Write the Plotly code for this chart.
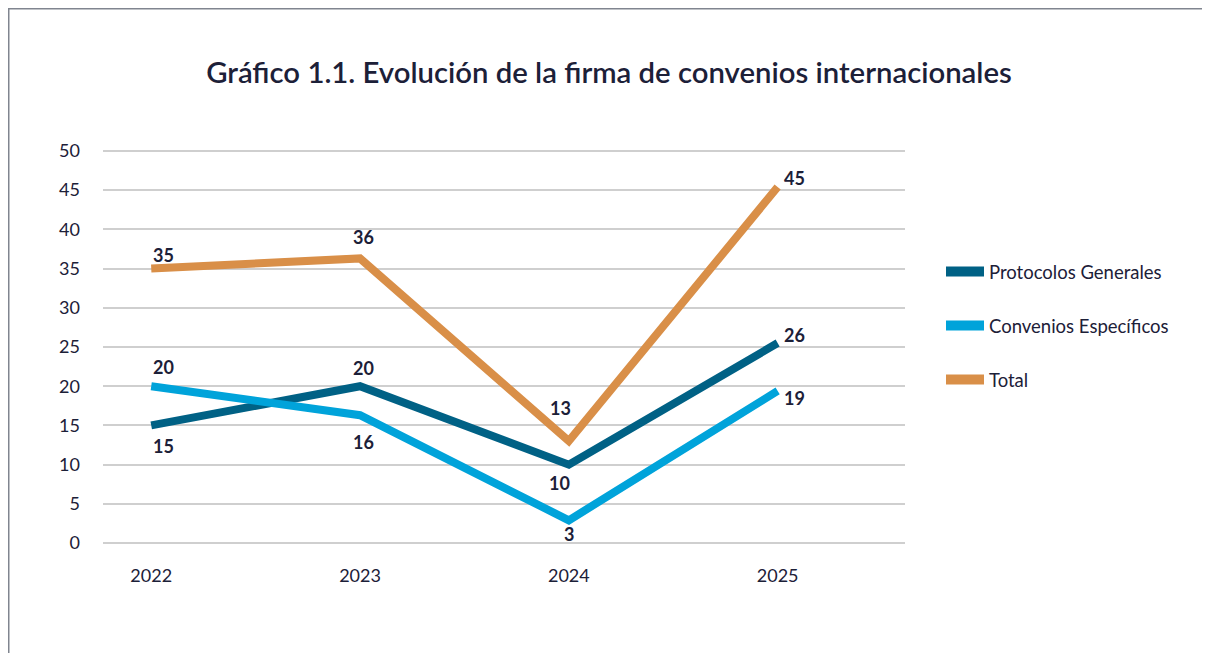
import plotly.graph_objects as go

# ---- data ----
years = ["2022", "2023", "2024", "2025"]
protocolos = [15, 20, 10, 25.5]
convenios = [20, 16.3, 2.9, 19.4]
total = [35, 36.3, 13, 45.4]
protocolos_labels = ["15", "20", "10", "26"]
convenios_labels = ["20", "16", "3", "19"]
total_labels = ["35", "36", "13", "45"]
y_ticks = [0, 5, 10, 15, 20, 25, 30, 35, 40, 45, 50]

# ---- styles ----
FONT = "Lato"
TXT = "#1c2038"
C_PROT = "#006185"
C_CONV = "#00A3DA"
C_TOT = "#D98F48"
LW = 8

# label offsets (px): (xshift, yshift)
off_prot = [(12, -21), (3, 18), (-9, -18), (17, 8)]
off_conv = [(12, 19), (3, -27), (0, -14), (17, -7)]
off_tot = [(12, 14), (3, 21), (-8, 33), (17, 9)]

series = [
    ("Protocolos Generales", protocolos, protocolos_labels, C_PROT, off_prot),
    ("Convenios Específicos", convenios, convenios_labels, C_CONV, off_conv),
    ("Total", total, total_labels, C_TOT, off_tot),
]

# ---- geometry (page pixels; page has an 8px body margin) ----
O = 8
W, H = 1210 - O, 653 - O
YPAD = 0.25
PX_PER_UNIT = (543 - 151) / 50
L = 103 - O
R = W - (905 - O)
T = 151 - O - YPAD * PX_PER_UNIT
B = H - (543 - O + YPAD * PX_PER_UNIT)
pw = W - L - R
ph = H - T - B


def px2x(px):
    return (px - O - L) / pw


def py2y(py):
    return (H - B - (py - O)) / ph


fig = go.Figure()
annotations = []
for name, vals, labs, col, offs in series:
    fig.add_trace(go.Scatter(
        x=years, y=vals, mode="lines", name=name,
        line=dict(color=col, width=LW), showlegend=False, hoverinfo="skip",
    ))
    for xi, (yv, lab, (dx, dy)) in enumerate(zip(vals, labs, offs)):
        annotations.append(dict(
            x=xi, y=yv, xref="x", yref="y", text=lab, showarrow=False,
            xshift=dx, yshift=dy,
            font=dict(family=FONT, size=18, color=TXT, weight="bold"),
        ))
# legend entries (swatches)
for i, (name, vals, labs, col, offs) in enumerate(series):
    fig.add_trace(go.Scatter(
        x=[None], y=[None], mode="lines", name=name,
        line=dict(color=col, width=10), legendgroup=f"g{i}",
    ))

shapes = [
    dict(type="line", xref="paper", yref="paper",
         x0=px2x(O), x1=px2x(1215), y0=py2y(O + 0.5), y1=py2y(O + 0.5),
         line=dict(color="#80858f", width=2)),
    dict(type="line", xref="paper", yref="paper",
         x0=px2x(O + 0.5), x1=px2x(O + 0.5), y0=py2y(O), y1=py2y(700),
         line=dict(color="#80858f", width=2)),
]

fig.update_layout(
    width=W, height=H,
    margin=dict(l=L, r=R, t=T, b=B, pad=0),
    paper_bgcolor="white", plot_bgcolor="white",
    font=dict(family=FONT, color=TXT, size=18),
    title=dict(
        text="Gráfico 1.1. Evolución de la firma de convenios internacionales",
        x=(609 - O) / W, xref="container", xanchor="center",
        y=1 - (73 - O) / H, yref="container", yanchor="middle",
        font=dict(family=FONT, size=29.3, color=TXT, weight=600),
    ),
    xaxis=dict(
        type="category", range=[-0.231, 3.61],
        showgrid=False, showline=False, zeroline=False, ticks="",
        tickfont=dict(family=FONT, size=18, color=TXT),
        ticklabelstandoff=18,
    ),
    yaxis=dict(
        range=[-YPAD, 50 + YPAD], tickvals=y_ticks,
        showgrid=True, gridcolor="#cfcfcf", gridwidth=1.5,
        zeroline=False, showline=False, ticks="",
        tickfont=dict(family=FONT, size=18, color=TXT),
        ticklabelstandoff=22,
    ),
    legend=dict(
        x=px2x(941), xanchor="left", y=py2y(326), yanchor="middle",
        font=dict(family=FONT, size=18.5, color=TXT),
        tracegroupgap=27, traceorder="grouped",
        bgcolor="rgba(0,0,0,0)", itemwidth=38,
    ),
    annotations=annotations,
    shapes=shapes,
)

fig.write_html("out.html")
